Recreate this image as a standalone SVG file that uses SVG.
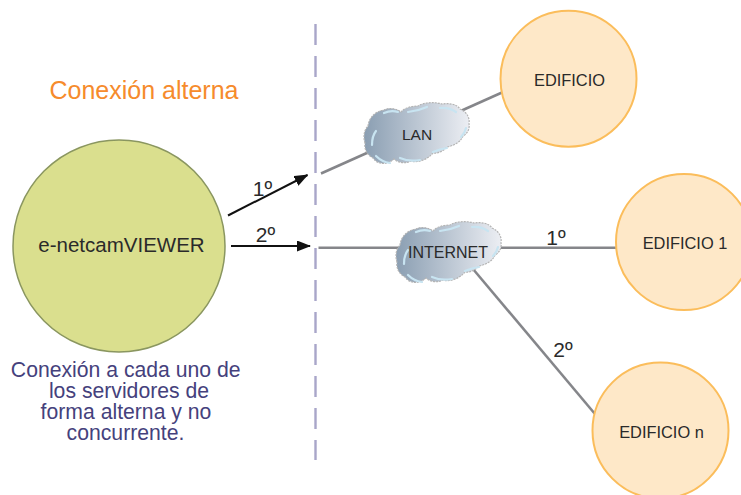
<svg xmlns="http://www.w3.org/2000/svg" width="741" height="495" viewBox="0 0 741 495">
<style>
text{font-family:"Liberation Sans",Arial,sans-serif;fill:#2a2a2a;text-anchor:middle}
.b{fill:#fee8c8;stroke:#fbbd5b;stroke-width:2}
.e{font-size:16.400px}
.l{stroke:#85868a;stroke-width:2.600;fill:none}
.a{stroke:#111;stroke-width:2;fill:none;marker-end:url(#m)}
.c{fill:url(#g);stroke:#b4b4b4;stroke-width:1.200;stroke-dasharray:2 1}
.h{fill:none;stroke:#c8e4f1;stroke-width:2.200;stroke-linecap:round}
.v{fill:#45417c;font-size:21.200px}
.n{font-size:21px}
</style>
<defs>
<linearGradient id="g" x1="0" x2="1" y1="0" y2="0"><stop offset="0" stop-color="#8a9eb2"/><stop offset="1" stop-color="#eceef3"/></linearGradient>
<marker id="m" markerUnits="userSpaceOnUse" markerWidth="14" markerHeight="11" refX="13" refY="5.500" orient="auto"><path d="M0 0L14 5.500L0 11Z" fill="#111"/></marker>
<g id="cl">
<path class="c" d="M1 40C-1 34 0 27 4 23C5 14 12 8 20 7C26 4 33 6 37 9C41 4 50 3 54 3C60 -1 72 -1 78 1C85 0 93 1 96 6C103 9 106 15 105 21C106 26 103 31 99 33C97 39 89 43 83 44C79 48 74 51 69 50C63 57 54 60 47 58C42 61 34 60 30 56C24 62 13 62 9 55C3 52 0 46 1 40Z"/>
<path class="h" d="M8 42Q8 33 12 28M20 10Q27 7 34 9M44 9Q54 8 63 4M76 5Q85 4 92 9M97 34Q101 30 102 25M12 53Q18 59 26 60M36 55Q45 59 56 57M69 49Q76 46 83 45"/>
</g>
</defs>
<g id="connectors">
<path d="M315.500 24V460" fill="none" stroke="#a9a6c9" stroke-width="2.400" stroke-dasharray="21 11"/>
<path class="l" d="M321 173.500L502 92.500"/>
<path class="l" d="M318.500 247.700H618"/>
<path class="l" d="M473 269L595 414"/>
<path class="a" d="M228 215.500L307.500 175"/>
<path class="a" d="M231 246H310"/>
</g>
<g id="lan"><use href="#cl" transform="translate(364 103)"/><text x="417" y="140" font-size="15.500">LAN</text></g>
<g id="internet"><use href="#cl" transform="translate(396 222)"/><text x="448" y="258" font-size="16">INTERNET</text></g>
<g id="viewer"><circle cx="119" cy="246" r="106" fill="#dadf8e" stroke="#8a9660" stroke-width="1.500"/><text x="121.500" y="252" font-size="20.500">e-netcamVIEWER</text></g>
<g id="edificio"><circle class="b" cx="568.500" cy="78.700" r="68"/><text class="e" x="569.500" y="86">EDIFICIO</text></g>
<g id="edificio1"><circle class="b" cx="684" cy="242" r="68"/><text class="e" x="685" y="249">EDIFICIO 1</text></g>
<g id="edificion"><circle class="b" cx="660.500" cy="430.500" r="68"/><text class="e" x="661.500" y="438">EDIFICIO n</text></g>
<text x="144" y="99" font-size="25" style="fill:#f68b2c">Conexión alterna</text>
<text x="262.500" y="196" class="n">1º</text>
<text x="265.500" y="242" class="n">2º</text>
<text x="556" y="245" class="n">1º</text>
<text x="563" y="357" class="n">2º</text>
<text x="125.700" y="377" class="v">Conexión a cada uno de</text>
<text x="129" y="398" class="v">los servidores de</text>
<text x="126" y="419" class="v">forma alterna y no</text>
<text x="125.500" y="440" class="v">concurrente.</text>
</svg>
